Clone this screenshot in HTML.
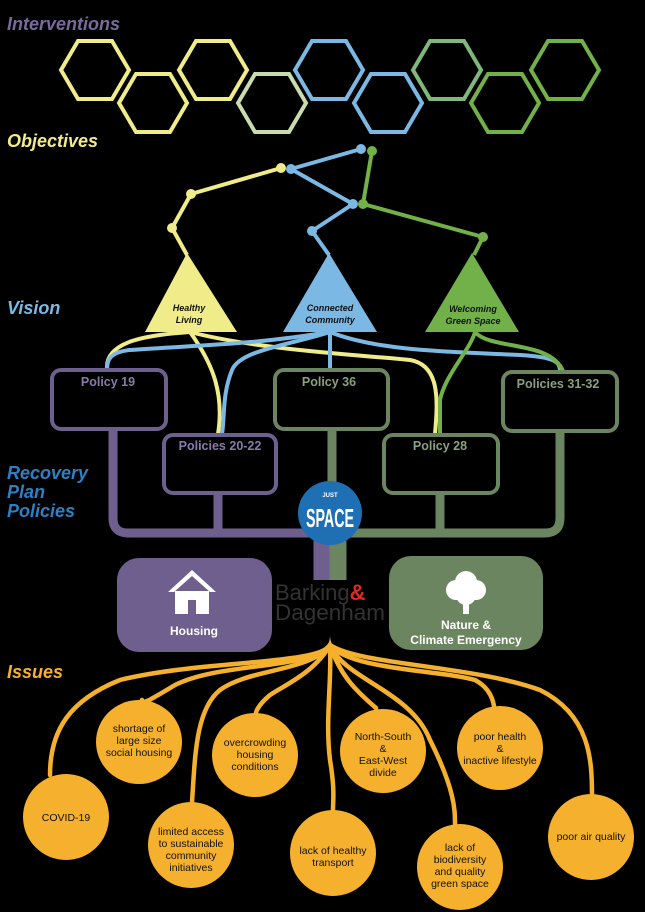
<!DOCTYPE html>
<html><head><meta charset="utf-8"><style>
html,body{margin:0;padding:0;background:#000;}
svg{display:block;}
text{font-family:"Liberation Sans",sans-serif;}
.h{font-weight:bold;font-style:italic;font-size:18px;}
.pl{font-weight:bold;font-size:12.5px;}
.is{font-size:10.5px;fill:#111;text-anchor:middle;}
</style></head><body>
<svg width="645" height="912" viewBox="0 0 645 912" xmlns="http://www.w3.org/2000/svg">
<rect width="645" height="912" fill="#000"/>
<text x="7" y="30" class="h" fill="#7a6a9c">Interventions</text>
<text x="7" y="147" class="h" fill="#f2ec8c">Objectives</text>
<text x="7" y="314" class="h" fill="#7cb8e4">Vision</text>
<text x="7" y="479" class="h" fill="#2e7fc4">Recovery</text>
<text x="7" y="498" class="h" fill="#2e7fc4">Plan</text>
<text x="7" y="517" class="h" fill="#2e7fc4">Policies</text>
<text x="7" y="678" class="h" fill="#f5b02e">Issues</text>

<!-- hexagons -->
<g fill="none" stroke-width="4" stroke-linejoin="miter">
<g stroke="#f0ec8a">
<polygon points="61,70 78,41 112,41 129,70 112,99 78,99"/>
<polygon points="119,103 136,74 170,74 187,103 170,132 136,132"/>
<polygon points="179,70 196,41 230,41 247,70 230,99 196,99"/>
</g>
<polygon stroke="#c8dcae" points="238,103 255,74 289,74 306,103 289,132 255,132"/>
<g stroke="#7cb8e4">
<polygon points="295,70 312,41 346,41 363,70 346,99 312,99"/>
<polygon points="354,103 371,74 405,74 422,103 405,132 371,132"/>
</g>
<polygon stroke="#7fb87a" points="413,70 430,41 464,41 481,70 464,99 430,99"/>
<g stroke="#72b04a">
<polygon points="471,103 488,74 522,74 539,103 522,132 488,132"/>
<polygon points="531,70 548,41 582,41 599,70 582,99 548,99"/>
</g>
</g>

<!-- objectives -->
<g fill="none" stroke-width="4" stroke-linejoin="round">
<polyline stroke="#f0ec8a" points="187,255 172,228 191,194 281,168"/>
<polyline stroke="#7cb8e4" points="329,255 312,231 353,204 291,169 361,149"/>
<polyline stroke="#72b04a" points="474,255 483,237 363,204 372,151"/>
</g>
<g>
<circle cx="172" cy="228" r="5" fill="#f0ec8a"/><circle cx="191" cy="194" r="5" fill="#f0ec8a"/><circle cx="281" cy="168" r="5" fill="#f0ec8a"/>
<circle cx="291" cy="169" r="5" fill="#7cb8e4"/><circle cx="361" cy="149" r="5" fill="#7cb8e4"/><circle cx="353" cy="204" r="5" fill="#7cb8e4"/><circle cx="312" cy="231" r="5" fill="#7cb8e4"/>
<circle cx="372" cy="151" r="5" fill="#72b04a"/><circle cx="363" cy="204" r="5" fill="#72b04a"/><circle cx="483" cy="237" r="5" fill="#72b04a"/>
</g>

<!-- triangles -->
<polygon fill="#f0ec8a" points="187,253 145,332 237,332"/>
<polygon fill="#7cb8e4" points="329,253 283,332 377,332"/>
<polygon fill="#72b04a" points="472,253 425,332 519,332"/>
<g font-weight="bold" font-style="italic" font-size="9" text-anchor="middle" fill="#111">
<text x="189" y="311">Healthy</text><text x="189" y="323">Living</text>
<text x="330" y="311">Connected</text><text x="330" y="323">Community</text>
<text x="473" y="312">Welcoming</text><text x="473" y="324">Green Space</text>
</g>

<!-- trunk -->
<g fill="none" stroke-width="9">
<path stroke="#6f5f8f" d="M113,430 V518 Q113,533 128,533 H322"/>
<path stroke="#6f5f8f" d="M218,494 V533"/>
<path stroke="#6f5f8f" d="M322,533 V580" stroke-width="17"/>
<path stroke="#6b8560" d="M338,533 V580" stroke-width="17"/>
<path stroke="#6b8560" d="M332,430 V533 M440,494 V533 M338,533 H545 Q560,533 560,518 V432"/>
</g>

<!-- vision connectors -->
<g fill="none" stroke-width="4">
<path stroke="#f0ec8a" d="M190,332 C150,335 105,340 107,369"/>
<path stroke="#f0ec8a" d="M190,332 C210,360 225,390 218,434"/>
<path stroke="#f0ec8a" d="M190,332 C260,350 360,355 410,360 C440,365 438,400 435,434"/>
<path stroke="#7cb8e4" d="M330,332 C250,345 200,345 130,350 C110,352 107,360 107,369"/>
<path stroke="#7cb8e4" d="M330,332 C290,345 240,350 232,370 C222,395 225,415 222,434"/>
<path stroke="#7cb8e4" d="M330,332 V369"/>
<path stroke="#7cb8e4" d="M330,332 C380,352 460,352 520,355 C555,357 560,362 560,371"/>
<path stroke="#72b04a" d="M475,332 C470,350 445,375 440,400 V434"/>
<path stroke="#72b04a" d="M475,332 C490,350 550,340 563,371"/>
</g>

<!-- policy boxes -->
<g fill="#000" stroke-width="4">
<rect x="52" y="370" width="114" height="59" rx="9" stroke="#6f5f8f"/>
<rect x="164" y="435" width="112" height="58" rx="9" stroke="#6f5f8f"/>
<rect x="275" y="370" width="113" height="59" rx="9" stroke="#6b8560"/>
<rect x="384" y="435" width="114" height="58" rx="9" stroke="#6b8560"/>
<rect x="503" y="372" width="114" height="59" rx="9" stroke="#6b8560"/>
</g>
<g class="pl" text-anchor="middle">
<text x="108" y="386" fill="#8a7aac" class="pl">Policy 19</text>
<text x="220" y="450" fill="#8a7aac" class="pl">Policies 20-22</text>
<text x="329" y="386" fill="#8aa07e" class="pl">Policy 36</text>
<text x="440" y="450" fill="#8aa07e" class="pl">Policy 28</text>
<text x="558" y="388" fill="#8aa07e" class="pl">Policies 31-32</text>
</g>

<!-- just space -->
<circle cx="330" cy="513" r="32" fill="#1f6fb5"/>
<text x="330" y="497" font-size="6" font-weight="bold" fill="#fff" text-anchor="middle">JUST</text>
<text x="330" y="527" font-size="26" font-weight="bold" fill="#fff" text-anchor="middle" textLength="48" lengthAdjust="spacingAndGlyphs">SPACE</text>

<!-- housing / nature -->
<rect x="117" y="558" width="155" height="94" rx="22" fill="#6f5f8f"/>
<rect x="389" y="556" width="154" height="94" rx="22" fill="#6b8560"/>
<g fill="#fff">
<polygon points="192,570 168,592 174,592 192,576 210,592 216,592"/>
<rect x="175" y="591" width="34" height="23"/>
</g>
<rect x="188" y="600" width="8" height="14" fill="#6f5f8f"/>
<text x="194" y="635" font-size="12" font-weight="bold" fill="#fff" text-anchor="middle">Housing</text>
<g fill="#fff">
<circle cx="466" cy="582" r="11"/><circle cx="456" cy="590" r="10"/><circle cx="476" cy="590" r="10"/><circle cx="466" cy="595" r="10"/>
<rect x="463" y="596" width="6" height="18"/>
</g>
<text x="466" y="629" font-size="12" font-weight="bold" fill="#fff" text-anchor="middle">Nature &amp;</text>
<text x="466" y="644" font-size="12" font-weight="bold" fill="#fff" text-anchor="middle">Climate Emergency</text>
<text x="275" y="600" font-size="22" fill="#333">Barking<tspan fill="#e02828" font-weight="bold">&amp;</tspan></text>
<text x="275" y="620" font-size="22" fill="#333" textLength="110" lengthAdjust="spacingAndGlyphs">Dagenham</text>

<!-- issues connectors -->
<g fill="none" stroke="#f5b02e" stroke-width="4.5" stroke-linecap="round">
<path d="M330,645 C320,665 200,660 120,680 C70,700 50,730 50,775"/>
<path d="M330,645 C310,670 220,662 175,685 C150,700 142,705 142,700"/>
<path d="M330,645 C310,672 250,668 220,690 C195,710 195,760 192,802"/>
<path d="M330,645 C315,672 285,685 270,695 C258,705 256,712 256,713"/>
<path d="M330,645 C332,680 325,720 330,760 C335,790 333,800 333,810"/>
<path d="M330,645 C340,675 355,690 376,708"/>
<path d="M330,645 C345,680 410,690 430,740 C455,790 455,810 455,824"/>
<path d="M330,645 C350,670 440,670 475,680 C490,688 493,700 494,706"/>
<path d="M330,645 C360,665 470,665 540,690 C590,715 592,760 592,795"/>
</g>
<path d="M318,652 Q330,648 330,635 Q330,648 342,652 Z" fill="#f5b02e"/>

<!-- issue circles -->
<g fill="#f5b02e">
<ellipse cx="66" cy="817" rx="43" ry="43"/>
<ellipse cx="139" cy="742" rx="43" ry="42"/>
<ellipse cx="191" cy="845" rx="43" ry="43"/>
<ellipse cx="255" cy="755" rx="43" ry="42"/>
<ellipse cx="333" cy="853" rx="43" ry="43"/>
<ellipse cx="383" cy="751" rx="43" ry="42"/>
<ellipse cx="460" cy="867" rx="43" ry="43"/>
<ellipse cx="500" cy="748" rx="43" ry="42"/>
<ellipse cx="591" cy="837" rx="43" ry="43"/>
</g>
<g class="is">
<text x="66" y="821" class="is">COVID-19</text>
<text x="139" y="732" class="is">shortage of</text><text x="139" y="744" class="is">large size</text><text x="139" y="756" class="is">social housing</text>
<text x="191" y="835" class="is">limited access</text><text x="191" y="847" class="is">to sustainable</text><text x="191" y="859" class="is">community</text><text x="191" y="871" class="is">initiatives</text>
<text x="255" y="746" class="is">overcrowding</text><text x="255" y="758" class="is">housing</text><text x="255" y="770" class="is">conditions</text>
<text x="333" y="854" class="is">lack of healthy</text><text x="333" y="866" class="is">transport</text>
<text x="383" y="740" class="is">North-South</text><text x="383" y="752" class="is">&amp;</text><text x="383" y="764" class="is">East-West</text><text x="383" y="776" class="is">divide</text>
<text x="460" y="851" class="is">lack of</text><text x="460" y="863" class="is">biodiversity</text><text x="460" y="875" class="is">and quality</text><text x="460" y="887" class="is">green space</text>
<text x="500" y="740" class="is">poor health</text><text x="500" y="752" class="is">&amp;</text><text x="500" y="764" class="is">inactive lifestyle</text>
<text x="591" y="840" class="is">poor air quality</text>
</g>
</svg>
</body></html>
